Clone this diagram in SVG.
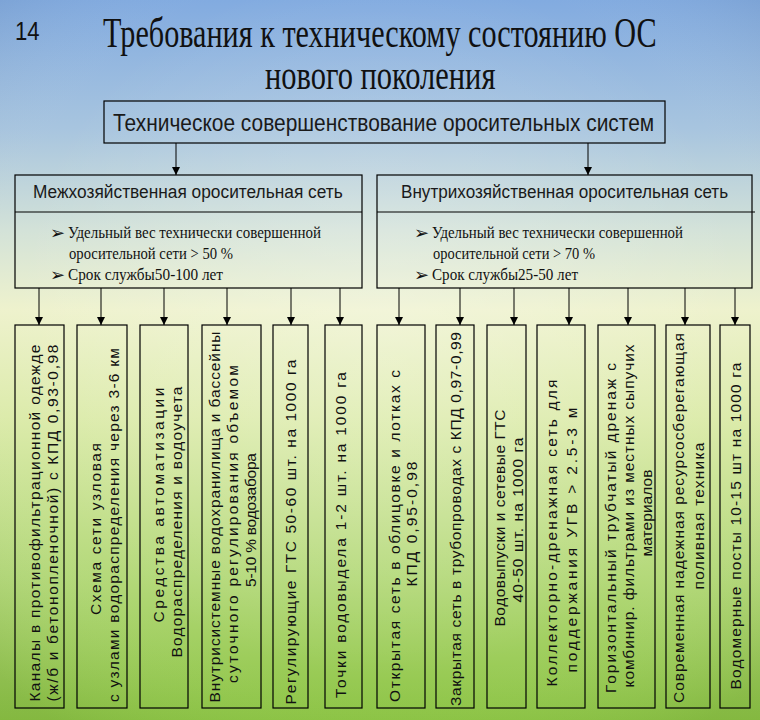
<svg xmlns="http://www.w3.org/2000/svg" width="760" height="720" viewBox="0 0 760 720">
<defs>
<linearGradient id="bg" x1="0" y1="0" x2="0" y2="1">
<stop offset="0" stop-color="#82abe0"/>
<stop offset="0.18" stop-color="#a8c5df"/>
<stop offset="0.32" stop-color="#d3e2d8"/>
<stop offset="0.43" stop-color="#eef2cd"/>
<stop offset="0.58" stop-color="#dcebab"/>
<stop offset="0.8" stop-color="#b4d97a"/>
<stop offset="1" stop-color="#8cc444"/>
</linearGradient>
<radialGradient id="glow" cx="0.5" cy="0.45" r="0.7">
<stop offset="0" stop-color="#ffffff" stop-opacity="0.25"/>
<stop offset="0.7" stop-color="#ffffff" stop-opacity="0"/>
<stop offset="1" stop-color="#000000" stop-opacity="0.06"/>
</radialGradient>
<marker id="arr" markerUnits="userSpaceOnUse" markerWidth="8" markerHeight="8" refX="8" refY="4" orient="auto">
<path d="M0,0 L8,4 L0,8 z" fill="#000"/>
</marker>
<style>
.box{fill:none;stroke:#000;stroke-width:1.2}
.ln{stroke:#000;stroke-width:1.1;fill:none}
.con{stroke:#000;stroke-width:1;fill:none;marker-end:url(#arr)}
.title{font-family:"Liberation Serif",serif;font-size:42px;fill:#111}
.num{font-family:"Liberation Sans",sans-serif;font-size:26px;fill:#111}
.hd{font-family:"Liberation Sans",sans-serif;font-size:24px;fill:#1a1a1a}
.sub{font-family:"Liberation Sans",sans-serif;font-size:19px;fill:#1a1a1a}
.bul{font-family:"Liberation Serif",serif;font-size:16px;fill:#111}
.mk{font-family:"DejaVu Sans",sans-serif;font-size:18px;fill:#111}
.v{font-family:"Liberation Sans",sans-serif;font-size:15.5px;fill:#111;text-anchor:middle;dominant-baseline:central}
</style>
</defs>
<rect x="0" y="0" width="760" height="720" fill="url(#bg)"/>
<rect x="0" y="0" width="760" height="720" fill="url(#glow)"/>

<g id="title">
<text class="num" transform="translate(15,40) scale(0.85,1)">14</text>
<text class="title" transform="translate(103,47) scale(0.8,1)" textLength="692" lengthAdjust="spacingAndGlyphs">Требования к техническому состоянию ОС</text>
<text class="title" transform="translate(265,89) scale(0.8,1)" textLength="288" lengthAdjust="spacingAndGlyphs">нового поколения</text>
</g>

<g id="node-top">
<rect class="box" x="104" y="101" width="561" height="42"/>
<text class="hd" transform="translate(113,131) scale(0.87,1)" textLength="622" lengthAdjust="spacingAndGlyphs">Техническое совершенствование оросительных систем</text>
</g>

<g id="node-left">
<rect class="box" x="15" y="175" width="347" height="113"/>
<line class="ln" x1="15" y1="212" x2="362" y2="212"/>
<text class="sub" transform="translate(33,198) scale(0.87,1)" textLength="356" lengthAdjust="spacingAndGlyphs">Межхозяйственная оросительная сеть</text>
<text class="mk" x="50" y="239">➢</text>
<text class="bul" x="68" y="238" textLength="253" lengthAdjust="spacingAndGlyphs">Удельный вес технически совершенной</text>
<text class="bul" x="69" y="259" textLength="164" lengthAdjust="spacingAndGlyphs">оросительной сети &gt; 50 %</text>
<text class="mk" x="50" y="281">➢</text>
<text class="bul" x="68" y="280" textLength="155" lengthAdjust="spacingAndGlyphs">Срок службы50-100 лет</text>
</g>

<g id="node-right">
<rect class="box" x="377" y="175" width="375" height="113"/>
<line class="ln" x1="377" y1="212" x2="755" y2="212"/>
<text class="sub" transform="translate(401,198) scale(0.87,1)" textLength="376" lengthAdjust="spacingAndGlyphs">Внутрихозяйственная оросительная сеть</text>
<text class="mk" x="414" y="239">➢</text>
<text class="bul" x="432" y="238" textLength="251" lengthAdjust="spacingAndGlyphs">Удельный вес технически совершенной</text>
<text class="bul" x="433" y="259" textLength="162" lengthAdjust="spacingAndGlyphs">оросительной сети &gt; 70 %</text>
<text class="mk" x="414" y="281">➢</text>
<text class="bul" x="432" y="280" textLength="146" lengthAdjust="spacingAndGlyphs">Срок службы25-50 лет</text>
</g>

<g id="connectors">
<line class="con" x1="176" y1="143" x2="176" y2="175"/>
<line class="con" x1="588" y1="143" x2="588" y2="175"/>
<line class="con" x1="39" y1="288" x2="39" y2="325"/>
<line class="con" x1="101" y1="288" x2="101" y2="325"/>
<line class="con" x1="164" y1="288" x2="164" y2="325"/>
<line class="con" x1="227" y1="288" x2="227" y2="325"/>
<line class="con" x1="291" y1="288" x2="291" y2="325"/>
<line class="con" x1="340" y1="288" x2="340" y2="325"/>
<line class="con" x1="399" y1="288" x2="399" y2="325"/>
<line class="con" x1="460" y1="288" x2="460" y2="325"/>
<line class="con" x1="514" y1="288" x2="514" y2="325"/>
<line class="con" x1="569" y1="288" x2="569" y2="325"/>
<line class="con" x1="628" y1="288" x2="628" y2="325"/>
<line class="con" x1="685" y1="288" x2="685" y2="325"/>
<line class="con" x1="735" y1="288" x2="735" y2="325"/>
</g>

<g id="node-b1">
<rect class="box" x="15" y="325" width="49" height="383"/>
<text class="v" transform="translate(34,523) rotate(-90)" textLength="357" lengthAdjust="spacing">Каналы в противофильтрационной одежде</text>
<text class="v" transform="translate(52,523) rotate(-90)" textLength="357" lengthAdjust="spacing">(ж/б и бетонопленочной) с КПД 0,93-0,98</text>
</g>
<g id="node-b2">
<rect class="box" x="77" y="325" width="50" height="383"/>
<text class="v" transform="translate(95,529) rotate(-90)" textLength="172" lengthAdjust="spacing">Схема сети  узловая</text>
<text class="v" transform="translate(113,525) rotate(-90)" textLength="354" lengthAdjust="spacing">с узлами водораспределения через 3-6 км</text>
</g>
<g id="node-b3">
<rect class="box" x="140" y="325" width="48" height="383"/>
<text class="v" transform="translate(158,505) rotate(-90)" textLength="235" lengthAdjust="spacing">Средства автоматизации</text>
<text class="v" transform="translate(176,522) rotate(-90)" textLength="271" lengthAdjust="spacing">Водораспределения  и водоучета</text>
</g>
<g id="node-b4">
<rect class="box" x="202" y="325" width="59" height="383"/>
<text class="v" transform="translate(214,517) rotate(-90)" textLength="371" lengthAdjust="spacing">Внутрисистемные водохранилища и бассейны</text>
<text class="v" transform="translate(232,524) rotate(-90)" textLength="318" lengthAdjust="spacing">суточного регулирования объемом</text>
<text class="v" transform="translate(250,520) rotate(-90)" textLength="134" lengthAdjust="spacing">5-10 % водозабора</text>
</g>
<g id="node-b5">
<rect class="box" x="273" y="325" width="35" height="383"/>
<text class="v" transform="translate(290,532) rotate(-90)" textLength="345" lengthAdjust="spacing">Регулирующие  ГТС  50-60 шт. на 1000 га</text>
</g>
<g id="node-b6">
<rect class="box" x="325" y="325" width="37" height="383"/>
<text class="v" transform="translate(340,535) rotate(-90)" textLength="326" lengthAdjust="spacing">Точки водовыдела 1-2 шт. на 1000 га</text>
</g>
<g id="node-b7">
<rect class="box" x="377" y="325" width="48" height="383"/>
<text class="v" transform="translate(394,536) rotate(-90)" textLength="332" lengthAdjust="spacing">Открытая сеть в облицовке и лотках с</text>
<text class="v" transform="translate(411,524) rotate(-90)" textLength="125" lengthAdjust="spacing">КПД 0,95-0,98</text>
</g>
<g id="node-b8">
<rect class="box" x="436" y="325" width="38" height="383"/>
<text class="v" transform="translate(455,519) rotate(-90)" textLength="374" lengthAdjust="spacing">Закрытая сеть в трубопроводах с КПД 0,97-0,99</text>
</g>
<g id="node-b9">
<rect class="box" x="487" y="325" width="39" height="383"/>
<text class="v" transform="translate(499,518) rotate(-90)" textLength="217" lengthAdjust="spacing">Водовыпуски и сетевые ГТС</text>
<text class="v" transform="translate(517,520) rotate(-90)" textLength="165" lengthAdjust="spacing">40-50 шт. на 1000 га</text>
</g>
<g id="node-b10">
<rect class="box" x="537" y="325" width="48" height="383"/>
<text class="v" transform="translate(551,533) rotate(-90)" textLength="307" lengthAdjust="spacing">Коллекторно-дренажная сеть для</text>
<text class="v" transform="translate(571,540) rotate(-90)" textLength="265" lengthAdjust="spacing">поддержания УГВ  &gt; 2.5-3 м</text>
</g>
<g id="node-b11">
<rect class="box" x="598" y="325" width="57" height="383"/>
<text class="v" transform="translate(610,528) rotate(-90)" textLength="330" lengthAdjust="spacing">Горизонтальный трубчатый дренаж с</text>
<text class="v" transform="translate(628,516) rotate(-90)" textLength="343" lengthAdjust="spacing">комбинир. фильтрами из местных сыпучих</text>
<text class="v" transform="translate(646,513) rotate(-90)" textLength="87" lengthAdjust="spacing">материалов</text>
</g>
<g id="node-b12">
<rect class="box" x="666" y="325" width="44" height="383"/>
<text class="v" transform="translate(678,518) rotate(-90)" textLength="370" lengthAdjust="spacing">Современная надежная ресурсосберегающая</text>
<text class="v" transform="translate(698,516) rotate(-90)" textLength="147" lengthAdjust="spacing">поливная техника</text>
</g>
<g id="node-b13">
<rect class="box" x="720" y="325" width="30" height="383"/>
<text class="v" transform="translate(735,526) rotate(-90)" textLength="327" lengthAdjust="spacing">Водомерные посты 10-15 шт на 1000 га</text>
</g>
</svg>
